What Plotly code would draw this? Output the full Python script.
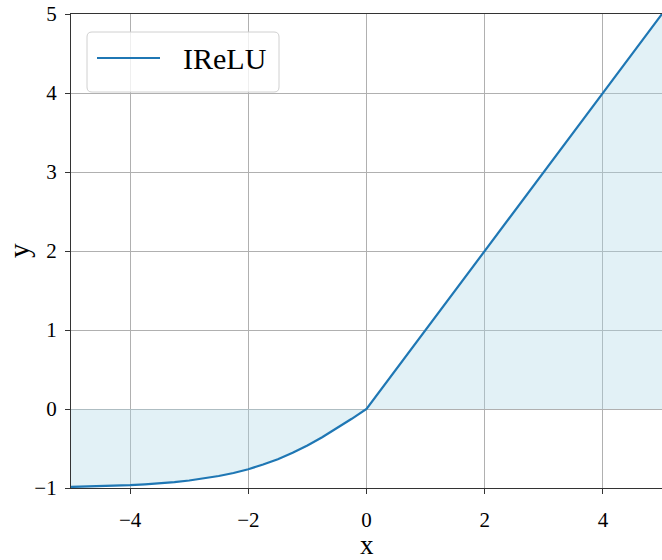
import plotly.graph_objects as go

# Values
x_vals = [-5.0, -4.75, -4.5, -4.25, -4.0, -3.75, -3.5, -3.25, -3.0, -2.75, -2.5,
          -2.25, -2.0, -1.75, -1.5, -1.25, -1.0, -0.75, -0.5, -0.25, 0.0,
          1.0, 2.0, 3.0, 4.0, 5.0]
y_vals = [-0.987, -0.983, -0.978, -0.972, -0.964, -0.954, -0.941, -0.926, -0.905,
          -0.880, -0.848, -0.810, -0.762, -0.703, -0.635, -0.555, -0.462, -0.358,
          -0.245, -0.124, 0.0, 1.0, 2.0, 3.0, 4.0, 5.0]
series_name = "IReLU"
x_ticks = [-4, -2, 0, 2, 4]
y_ticks = [-1, 0, 1, 2, 3, 4, 5]

FONT = "Liberation Serif"
W, H = 662, 560
ML, MR, MT, MB = 71, 0, 14, 72
PW, PH = W - ML - MR, H - MT - MB


def px(xp):
    return (xp - ML) / PW


def py(yp):
    return (H - MB - yp) / PH


fig = go.Figure()
fig.add_trace(go.Scatter(
    x=x_vals, y=y_vals, mode="none", fill="tozeroy",
    fillcolor="rgba(173,216,230,0.35)", showlegend=False, hoverinfo="skip"))
fig.add_trace(go.Scatter(
    x=x_vals, y=y_vals, mode="lines", name=series_name, showlegend=False,
    line=dict(color="#1f77b4", width=2.2)))

axis_common = dict(
    showgrid=True, gridcolor="#b0b0b0", gridwidth=1,
    zeroline=False, showline=True, linecolor="#333333", linewidth=1.3,
    ticks="outside", ticklen=5, tickwidth=1.2, tickcolor="#333333",
    tickfont=dict(family=FONT, size=21, color="#000000"),
    automargin=False,
)

# Legend box (rounded) drawn in paper space
x0, x1 = px(87), px(279)
yt, yb = py(32), py(92)
rx, ry = 5 / PW, 5 / PH
path = (f"M {x0+rx},{yt} L {x1-rx},{yt} Q {x1},{yt} {x1},{yt-ry} "
        f"L {x1},{yb+ry} Q {x1},{yb} {x1-rx},{yb} "
        f"L {x0+rx},{yb} Q {x0},{yb} {x0},{yb+ry} "
        f"L {x0},{yt-ry} Q {x0},{yt} {x0+rx},{yt} Z")

shapes = [
    dict(type="path", path=path, xref="paper", yref="paper",
         fillcolor="rgba(255,255,255,0.8)", line=dict(color="#d0d0d0", width=1),
         layer="above"),
    dict(type="line", xref="paper", yref="paper", x0=px(97), x1=px(160),
         y0=py(58), y1=py(58), line=dict(color="#1f77b4", width=2.2),
         layer="above"),
]

annotations = [
    dict(text=series_name, xref="paper", yref="paper", x=px(181), y=py(59),
         xanchor="left", yanchor="middle", showarrow=False,
         font=dict(family=FONT, size=30, color="#000000")),
    dict(text="x", xref="paper", yref="paper", x=px(367), y=py(545),
         xanchor="center", yanchor="middle", showarrow=False,
         font=dict(family=FONT, size=27, color="#000000")),
    dict(text="y", xref="paper", yref="paper", x=px(19), y=py(251),
         xanchor="center", yanchor="middle", showarrow=False, textangle=-90,
         font=dict(family=FONT, size=29, color="#000000")),
]

fig.update_layout(
    width=W, height=H,
    margin=dict(l=ML, r=MR, t=MT, b=MB),
    paper_bgcolor="white", plot_bgcolor="white",
    font=dict(family=FONT, color="#000000"),
    showlegend=False,
    xaxis=dict(range=[-5, 5], tickvals=x_ticks, mirror=True,
               ticklabelstandoff=8, **axis_common),
    yaxis=dict(range=[-1, 5], tickvals=y_ticks, mirror=False,
               ticklabelstandoff=4, **axis_common),
    shapes=shapes,
    annotations=annotations,
)

fig.write_html("out.html")
